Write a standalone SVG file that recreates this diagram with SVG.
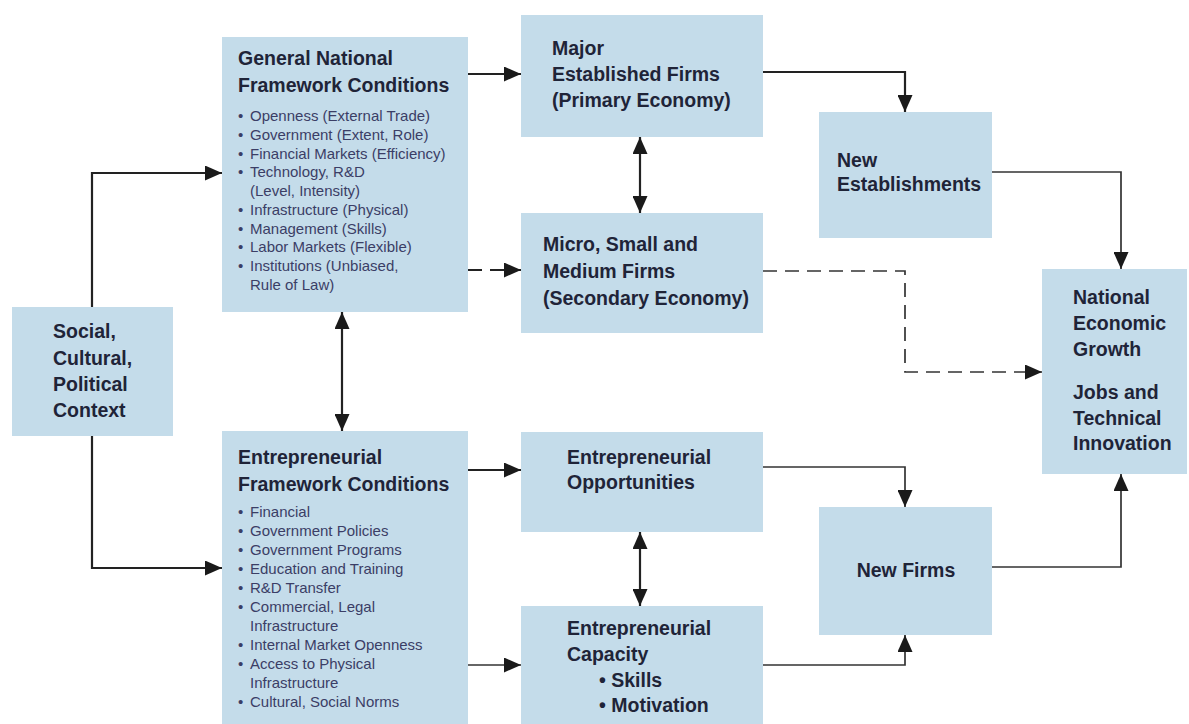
<svg xmlns="http://www.w3.org/2000/svg" width="1189" height="724" viewBox="0 0 1189 724">
  <style>
    .box { fill: #c4dcea; }
    .hd { font-family: "Liberation Sans", Arial, sans-serif; font-weight: bold; font-size: 19.5px; fill: #1f2438; }
    .bl { font-family: "Liberation Sans", Arial, sans-serif; font-size: 15px; fill: #3b3e66; }
    .ln { fill: none; stroke: #222; stroke-width: 2.2; }
    .thin { stroke-width: 1.7; stroke: #333; }
    .dash { stroke-dasharray: 14 8; }
  </style>
  <defs>
    <marker id="ah" markerUnits="userSpaceOnUse" markerWidth="17" markerHeight="15" refX="17" refY="7.5" orient="auto-start-reverse">
      <path d="M0,0 L17,7.5 L0,15 z" fill="#1a1a1a"/>
    </marker>
  </defs>
  <rect width="1189" height="724" fill="#ffffff"/>

  <!-- connectors -->
  <g id="connectors">
    <path class="ln" d="M92,307 V173 H222" marker-end="url(#ah)"/>
    <path class="ln" d="M92,436 V568 H222" marker-end="url(#ah)"/>
    <path class="ln" d="M468,74 H521" marker-end="url(#ah)"/>
    <path class="ln dash" d="M468,270 H521" marker-end="url(#ah)"/>
    <path class="ln" d="M342,312 V431" marker-start="url(#ah)" marker-end="url(#ah)"/>
    <path class="ln" d="M640,137 V213" marker-start="url(#ah)" marker-end="url(#ah)"/>
    <path class="ln" d="M763,72 H905 V112" marker-end="url(#ah)"/>
    <path class="ln thin" d="M992,172 H1121 V269" marker-end="url(#ah)"/>
    <path class="ln thin dash" d="M763,271 H905 V372 H1042" marker-end="url(#ah)"/>
    <path class="ln" d="M468,470 H521" marker-end="url(#ah)"/>
    <path class="ln thin" d="M468,665 H521" marker-end="url(#ah)"/>
    <path class="ln" d="M640,532 V606" marker-start="url(#ah)" marker-end="url(#ah)"/>
    <path class="ln thin" d="M763,467 H905 V507" marker-end="url(#ah)"/>
    <path class="ln thin" d="M763,665 H905 V635" marker-end="url(#ah)"/>
    <path class="ln thin" d="M992,567 H1121 V474" marker-end="url(#ah)"/>
  </g>

  <g id="social">
    <rect class="box" x="12" y="307" width="161" height="129"/>
    <text class="hd"><tspan x="53" y="338">Social,</tspan><tspan x="53" y="365">Cultural,</tspan><tspan x="53" y="391">Political</tspan><tspan x="53" y="417">Context</tspan></text>
  </g>

  <g id="general-framework">
    <rect class="box" x="222" y="37" width="246" height="275"/>
    <text class="hd"><tspan x="238" y="65">General National</tspan><tspan x="238" y="92">Framework Conditions</tspan></text>
    <text class="bl">
      <tspan x="238" y="121">•</tspan><tspan x="250" y="121">Openness (External Trade)</tspan>
      <tspan x="238" y="140">•</tspan><tspan x="250" y="140">Government (Extent, Role)</tspan>
      <tspan x="238" y="159">•</tspan><tspan x="250" y="159">Financial Markets (Efficiency)</tspan>
      <tspan x="238" y="177">•</tspan><tspan x="250" y="177">Technology, R&amp;D</tspan>
      <tspan x="250" y="196">(Level, Intensity)</tspan>
      <tspan x="238" y="215">•</tspan><tspan x="250" y="215">Infrastructure (Physical)</tspan>
      <tspan x="238" y="234">•</tspan><tspan x="250" y="234">Management (Skills)</tspan>
      <tspan x="238" y="252">•</tspan><tspan x="250" y="252">Labor Markets (Flexible)</tspan>
      <tspan x="238" y="271">•</tspan><tspan x="250" y="271">Institutions (Unbiased,</tspan>
      <tspan x="250" y="290">Rule of Law)</tspan>
    </text>
  </g>

  <g id="entrepreneurial-framework">
    <rect class="box" x="222" y="431" width="246" height="293"/>
    <text class="hd"><tspan x="238" y="464">Entrepreneurial</tspan><tspan x="238" y="491">Framework Conditions</tspan></text>
    <text class="bl">
      <tspan x="238" y="517">•</tspan><tspan x="250" y="517">Financial</tspan>
      <tspan x="238" y="536">•</tspan><tspan x="250" y="536">Government Policies</tspan>
      <tspan x="238" y="555">•</tspan><tspan x="250" y="555">Government Programs</tspan>
      <tspan x="238" y="574">•</tspan><tspan x="250" y="574">Education and Training</tspan>
      <tspan x="238" y="593">•</tspan><tspan x="250" y="593">R&amp;D Transfer</tspan>
      <tspan x="238" y="612">•</tspan><tspan x="250" y="612">Commercial, Legal</tspan>
      <tspan x="250" y="631">Infrastructure</tspan>
      <tspan x="238" y="650">•</tspan><tspan x="250" y="650">Internal Market Openness</tspan>
      <tspan x="238" y="669">•</tspan><tspan x="250" y="669">Access to Physical</tspan>
      <tspan x="250" y="688">Infrastructure</tspan>
      <tspan x="238" y="707">•</tspan><tspan x="250" y="707">Cultural, Social Norms</tspan>
    </text>
  </g>

  <g id="major-firms">
    <rect class="box" x="521" y="15" width="242" height="122"/>
    <text class="hd"><tspan x="552" y="55">Major</tspan><tspan x="552" y="81">Established Firms</tspan><tspan x="552" y="107">(Primary Economy)</tspan></text>
  </g>

  <g id="small-firms">
    <rect class="box" x="521" y="213" width="242" height="120"/>
    <text class="hd"><tspan x="543" y="251">Micro, Small and</tspan><tspan x="543" y="278">Medium Firms</tspan><tspan x="543" y="305">(Secondary Economy)</tspan></text>
  </g>

  <g id="opportunities">
    <rect class="box" x="521" y="432" width="242" height="100"/>
    <text class="hd"><tspan x="567" y="464">Entrepreneurial</tspan><tspan x="567" y="489">Opportunities</tspan></text>
  </g>

  <g id="capacity">
    <rect class="box" x="521" y="606" width="242" height="118"/>
    <text class="hd"><tspan x="567" y="635">Entrepreneurial</tspan><tspan x="567" y="661">Capacity</tspan><tspan x="599" y="687">• Skills</tspan><tspan x="599" y="712">• Motivation</tspan></text>
  </g>

  <g id="new-establishments">
    <rect class="box" x="819" y="112" width="173" height="126"/>
    <text class="hd"><tspan x="837" y="167">New</tspan><tspan x="837" y="191">Establishments</tspan></text>
  </g>

  <g id="new-firms">
    <rect class="box" x="819" y="507" width="173" height="128"/>
    <text class="hd" x="906" y="577" text-anchor="middle">New Firms</text>
  </g>

  <g id="national-growth">
    <rect class="box" x="1042" y="269" width="145" height="205"/>
    <text class="hd"><tspan x="1073" y="304">National</tspan><tspan x="1073" y="330">Economic</tspan><tspan x="1073" y="356">Growth</tspan><tspan x="1073" y="399">Jobs and</tspan><tspan x="1073" y="425">Technical</tspan><tspan x="1073" y="450">Innovation</tspan></text>
  </g>
</svg>
